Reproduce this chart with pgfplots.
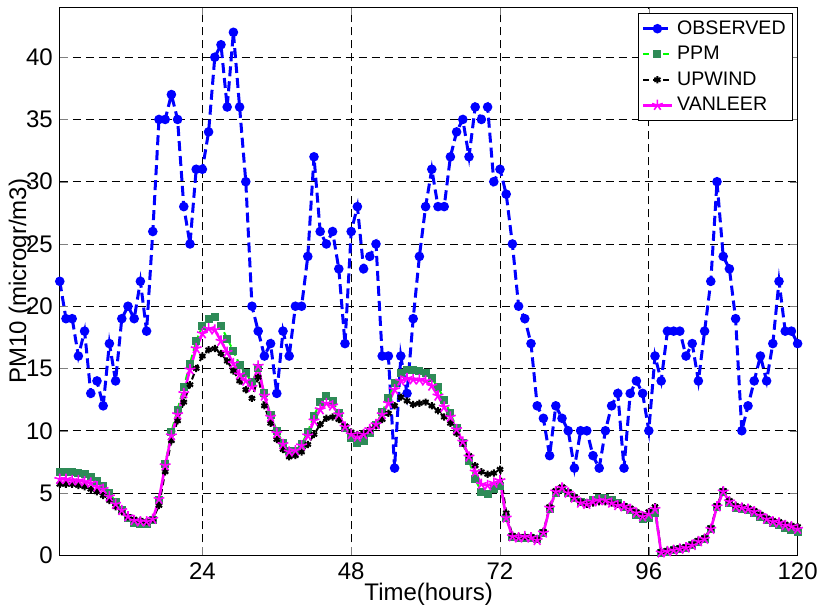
\documentclass[border=0pt]{standalone}
\usepackage{fontspec}
\setmainfont{Liberation Sans}
\usepackage{pgfplots}
\pgfplotsset{compat=1.18}
\usepackage{pgfplotstable}
\definecolor{obsblue}{RGB}{0,0,255}
\definecolor{ppmgreen}{RGB}{0,255,0}
\definecolor{ppmmark}{RGB}{46,139,87}
\definecolor{vanmag}{RGB}{255,0,255}

% hour, observed, PPM, UPWIND, VANLEER
\pgfplotstableread{
h obs ppm up van
1 22 6.7 5.7 6.1
2 19 6.7 5.7 6.1
3 19 6.7 5.7 6.0
4 16 6.6 5.6 6.0
5 18 6.5 5.5 5.9
6 13 6.3 5.3 5.8
7 14 6.0 5.1 5.5
8 12 5.6 4.8 5.3
9 17 5.0 4.4 4.7
10 14 4.3 3.9 4.1
11 19 3.6 3.5 3.6
12 20 3.0 3.1 3.1
13 19 2.6 2.9 2.8
14 22 2.5 2.8 2.7
15 18 2.5 2.7 2.7
16 26 2.8 2.9 2.9
17 35 4.4 4.0 4.5
18 35 7.3 6.7 7.2
19 37 9.9 9.2 9.6
20 35 11.7 10.8 11.3
21 28 13.5 12.3 13.0
22 25 15.4 13.7 14.9
23 31 17.2 15.0 16.6
24 31 18.4 16.0 17.8
25 34 19.0 16.5 18.2
26 40 19.1 16.6 18.1
27 41 18.4 16.2 17.2
28 36 17.4 15.6 16.3
29 42 16.4 14.8 15.4
30 36 15.3 14.0 14.5
31 30 14.6 13.3 14.0
32 20 13.9 12.6 13.5
33 18 15.0 14.3 15.2
34 16 13.0 12.0 12.8
35 17 11.3 10.6 11.1
36 13 10.0 9.3 9.8
37 18 9.0 8.5 8.9
38 16 8.4 7.9 8.3
39 20 8.4 8.0 8.4
40 20 8.9 8.3 8.8
41 24 9.9 8.9 9.6
42 32 11.2 9.7 10.8
43 26 12.3 10.5 11.7
44 25 12.8 11.0 12.2
45 26 12.4 11.1 12.0
46 23 11.4 10.9 11.3
47 17 10.2 10.4 10.3
48 26 9.4 9.9 9.7
49 28 9.0 9.7 9.5
50 23 9.2 9.8 9.7
51 24 9.8 10.1 10.1
52 25 10.5 10.4 10.5
53 16 11.5 10.9 11.3
54 16 12.6 11.4 12.2
55 7 13.8 12.0 13.3
56 16 14.6 12.7 14.0
57 13 14.9 12.4 14.2
58 19 14.9 12.1 14.1
59 24 14.8 12.2 14.1
60 28 14.6 12.3 14.0
61 31 14.2 12.0 13.6
62 28 13.5 11.6 12.8
63 28 12.5 11.1 11.9
64 32 11.4 10.6 11.1
65 34 10.2 9.8 10.1
66 35 9.0 9.0 9.1
67 32 7.6 8.0 7.9
68 36 6.1 7.2 6.7
69 35 5.1 6.7 5.7
70 36 4.9 6.5 5.6
71 30 5.3 6.6 5.8
72 31 5.6 6.9 6.0
73 29 3.0 3.4 3.0
74 25 1.5 1.6 1.5
75 20 1.4 1.5 1.4
76 19 1.4 1.5 1.5
77 17 1.4 1.5 1.4
78 12 1.3 1.3 1.2
79 11 1.8 1.9 1.8
80 8 3.7 3.9 3.8
81 12 5.0 5.2 5.1
82 11 5.3 5.5 5.4
83 10 5.0 5.1 5.0
84 7 4.6 4.7 4.6
85 10 4.3 4.3 4.2
86 10 4.2 4.1 4.1
87 8 4.4 4.2 4.3
88 7 4.6 4.3 4.4
89 10 4.6 4.3 4.4
90 12 4.4 4.2 4.2
91 13 4.2 4.1 4.0
92 7 3.9 4.0 3.9
93 13 3.6 3.8 3.7
94 14 3.2 3.5 3.4
95 13 2.9 3.2 3.1
96 10 3.0 3.5 3.3
97 16 3.4 3.9 3.7
98 14 0.2 0.3 0.2
99 18 0.3 0.4 0.3
100 18 0.4 0.5 0.4
101 18 0.5 0.6 0.5
102 16 0.6 0.7 0.6
103 17 0.8 0.9 0.8
104 14 1.1 1.2 1.1
105 18 1.3 1.4 1.3
106 22 2.1 2.2 2.1
107 30 3.9 4.0 3.9
108 24 5.1 5.2 5.1
109 23 4.2 4.4 4.3
110 19 3.8 4.0 3.9
111 10 3.7 3.9 3.8
112 12 3.6 3.8 3.7
113 14 3.4 3.6 3.5
114 16 3.1 3.3 3.2
115 14 2.8 3.0 2.9
116 17 2.6 2.8 2.7
117 22 2.4 2.7 2.6
118 18 2.2 2.5 2.4
119 18 2.0 2.4 2.3
120 17 1.9 2.3 2.1
}\datatable

\begin{document}
\begin{tikzpicture}
% page frame: axis box is (0,0)--(369pt,274pt)
\useasboundingbox (-29.9pt,-26.7pt) rectangle (379.7pt,277.7pt);
\begin{axis}[
  at={(0,0)}, anchor=south west,
  scale only axis, width=369pt, height=274pt,
  xmin=1, xmax=120, ymin=0, ymax=44,
  xtick={24,48,72,96,120}, ytick={0,5,...,40},
  tick align=inside, major tick length=4pt,
  xtick pos=both, ytick pos=both,
  grid=major,
  major grid style={black, dash pattern=on 4pt off 2.5pt, line width=0.4pt},
  axis line style={line width=0.6pt},
  tick label style={font=\fontsize{12}{14}\selectfont},
  /pgf/number format/assume math mode=true,
  label style={font=\fontsize{12}{14}\selectfont},
  xlabel={Time(hours)}, ylabel={PM10 (microgr/m3)},
  xlabel style={at={(axis description cs:0.5,0)}, anchor=center, yshift=-19.3pt},
  ylabel style={at={(axis description cs:-0.054,0.5)}, anchor=center},
  legend style={at={(0.994,0.99)}, anchor=north east, draw=black,
    line width=0.5pt, fill=white, font=\fontsize{9.8}{11}\selectfont,
    row sep=0.5pt, inner sep=1.5pt},
  legend cell align=left,
  legend image code/.code={\draw[mark repeat=2,mark phase=2]
    plot coordinates {(0cm,0cm) (0.25cm,0cm) (0.5cm,0cm)};},
]
\addplot[obsblue, line width=1.5pt, dash pattern=on 5pt off 2.5pt,
  mark=*, mark size=1.6pt, mark options={solid, fill=obsblue}]
  table[x=h, y=obs] {\datatable};
\addplot[ppmgreen, line width=1pt, dash pattern=on 3pt off 2pt,
  mark=square*, mark size=1.5pt, mark options={solid, draw=ppmmark, fill=ppmmark}]
  table[x=h, y=ppm] {\datatable};
\addplot[black, line width=1pt, dash pattern=on 3pt off 2pt,
  mark=asterisk, mark size=1.8pt, mark options={solid, line width=1pt}]
  table[x=h, y=up] {\datatable};
\addplot[vanmag, line width=1.3pt,
  mark=star, mark size=2.8pt, mark options={solid, line width=0.8pt}]
  table[x=h, y=van] {\datatable};
\legend{OBSERVED, PPM, UPWIND, VANLEER}
\end{axis}
\end{tikzpicture}
\end{document}
